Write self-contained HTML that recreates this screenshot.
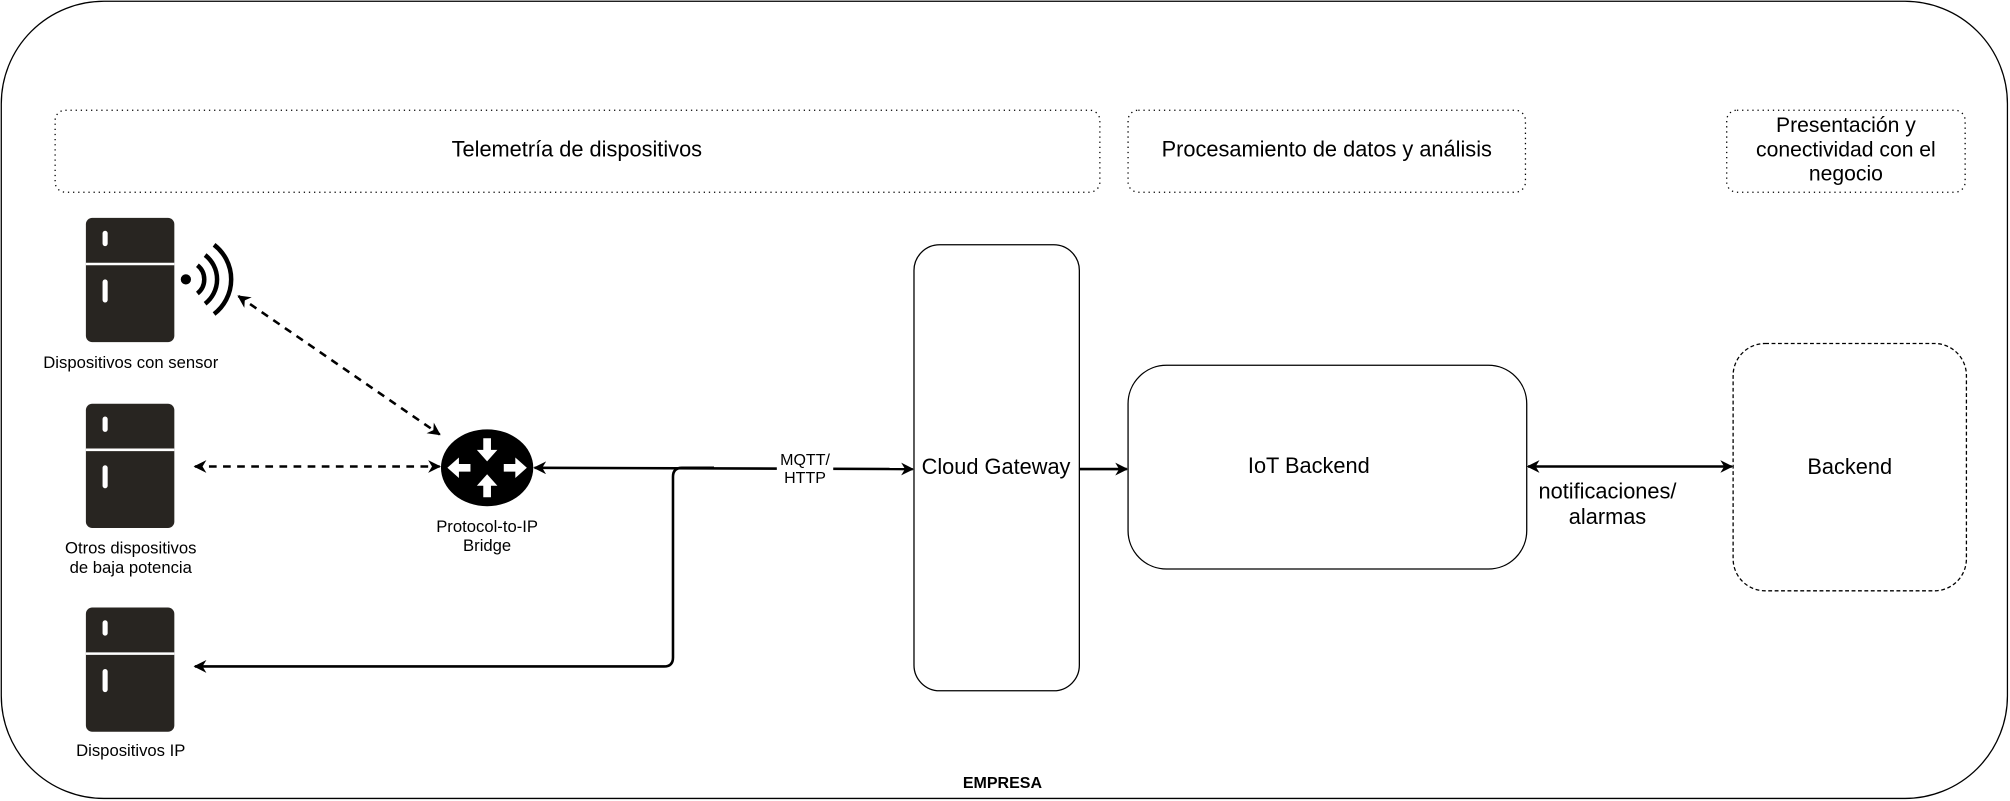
<!DOCTYPE html>
<html><head><meta charset="utf-8"><style>html,body{margin:0;padding:0;background:#fff}svg{display:block}text{font-family:"Liberation Sans",Arial,sans-serif;fill:#000}</style></head>
<body>
<svg width="2010" height="801" viewBox="0 0 1568 625" preserveAspectRatio="none" xmlns="http://www.w3.org/2000/svg">
<defs>
<marker id="a" viewBox="0 0 10 10" refX="9" refY="5" markerWidth="10" markerHeight="10" markerUnits="userSpaceOnUse" orient="auto-start-reverse"><path d="M0,0 L10,5 L0,10 L3,5 Z" fill="#000"/></marker>
</defs>
<rect x="1" y="1" width="1565" height="622" rx="80" fill="#fff" stroke="#000" stroke-width="1"/>
<rect x="43" y="86" width="815" height="64" rx="8" fill="none" stroke="#000" stroke-dasharray="1,3"/>
<rect x="880" y="86" width="310" height="64" rx="8" fill="none" stroke="#000" stroke-dasharray="1,3"/>
<rect x="1347" y="86" width="186" height="64" rx="8" fill="none" stroke="#000" stroke-dasharray="1,3"/>
<text x="450" y="122" font-size="17" text-anchor="middle">Telemetría de dispositivos</text>
<text x="1035" y="122" font-size="17" text-anchor="middle">Procesamiento de datos y análisis</text>
<text x="1440" y="103" font-size="16.5" text-anchor="middle">Presentación y</text>
<text x="1440" y="122" font-size="16.5" text-anchor="middle">conectividad con el</text>
<text x="1440" y="141" font-size="16.5" text-anchor="middle">negocio</text>
<g fill="#282521">
<rect x="67" y="170" width="69" height="97" rx="5"/>
<rect x="67" y="315" width="69" height="97" rx="5"/>
<rect x="67" y="474" width="69" height="97" rx="5"/>
</g>
<g stroke="#fff" stroke-width="2"><line x1="67" y1="206" x2="136" y2="206"/><line x1="67" y1="351" x2="136" y2="351"/><line x1="67" y1="510" x2="136" y2="510"/></g>
<g fill="#fff">
<rect x="80" y="180" width="4" height="12" rx="2"/><rect x="80" y="218" width="4" height="18" rx="2"/>
<rect x="80" y="325" width="4" height="12" rx="2"/><rect x="80" y="363" width="4" height="18" rx="2"/>
<rect x="80" y="484" width="4" height="12" rx="2"/><rect x="80" y="522" width="4" height="18" rx="2"/>
</g>
<circle cx="145" cy="218" r="4" fill="#000"/>
<g fill="none" stroke="#000" stroke-width="3.5">
<path d="M154,207 A14,14 0 0 1 154,229"/>
<path d="M160,199 A24,24 0 0 1 160,237"/>
<path d="M167,191 A34,34 0 0 1 167,245"/>
</g>
<text x="102" y="287" font-size="13" text-anchor="middle">Dispositivos con sensor</text>
<text x="102" y="432" font-size="13" text-anchor="middle">Otros dispositivos</text>
<text x="102" y="447" font-size="13" text-anchor="middle">de baja potencia</text>
<text x="102" y="590" font-size="13" text-anchor="middle">Dispositivos IP</text>
<ellipse cx="380" cy="365" rx="36" ry="30" fill="#000"/>
<g fill="#fff">
<path d="M377,342 h6 v9 h5 l-8,9 l-8,-9 h5z"/>
<path d="M377,388 h6 v-9 h5 l-8,-9 l-8,9 h5z"/>
<path d="M349,362 h9 v-5 l9,8 l-9,8 v-5 h-9z" transform="rotate(180 358 365)"/>
<path d="M393,362 h9 v-5 l9,8 l-9,8 v-5 h-9z"/>
</g>
<text x="380" y="415" font-size="13" text-anchor="middle">Protocol-to-IP</text>
<text x="380" y="430" font-size="13" text-anchor="middle">Bridge</text>
<g fill="none" stroke="#000" stroke-width="2">
<line x1="186" y1="231" x2="343" y2="339" stroke-dasharray="6,5" marker-start="url(#a)" marker-end="url(#a)"/>
<line x1="152" y1="364" x2="343" y2="364" stroke-dasharray="6,5" marker-start="url(#a)" marker-end="url(#a)"/>
<line x1="417" y1="365" x2="712" y2="366" marker-start="url(#a)" marker-end="url(#a)"/>
<path d="M557,365 H532 Q525,365 525,372 V513 Q525,520 518,520 H152" marker-end="url(#a)"/>
<line x1="842" y1="366" x2="879" y2="366" marker-end="url(#a)"/>
<line x1="1192" y1="364" x2="1351" y2="364" marker-start="url(#a)" marker-end="url(#a)"/>
</g>
<rect x="606" y="352" width="44" height="26" fill="#fff"/>
<text x="628" y="363" font-size="12.5" text-anchor="middle">MQTT/</text>
<text x="628" y="377" font-size="12.5" text-anchor="middle">HTTP</text>
<rect x="713" y="191" width="129" height="348" rx="20" fill="#fff" stroke="#000"/>
<text x="777" y="370" font-size="17" text-anchor="middle">Cloud Gateway</text>
<rect x="880" y="285" width="311" height="159" rx="30" fill="#fff" stroke="#000"/>
<text x="1021" y="369" font-size="17" text-anchor="middle">IoT Backend</text>
<text x="1254" y="389" font-size="17" text-anchor="middle">notificaciones/</text>
<text x="1254" y="409" font-size="17" text-anchor="middle">alarmas</text>
<rect x="1352" y="268" width="182" height="193" rx="25" fill="#fff" stroke="#000" stroke-dasharray="3,2"/>
<text x="1443" y="370" font-size="17" text-anchor="middle">Backend</text>
<text x="782" y="615" font-size="12.5" font-weight="bold" text-anchor="middle">EMPRESA</text>
</svg>
</body></html>
